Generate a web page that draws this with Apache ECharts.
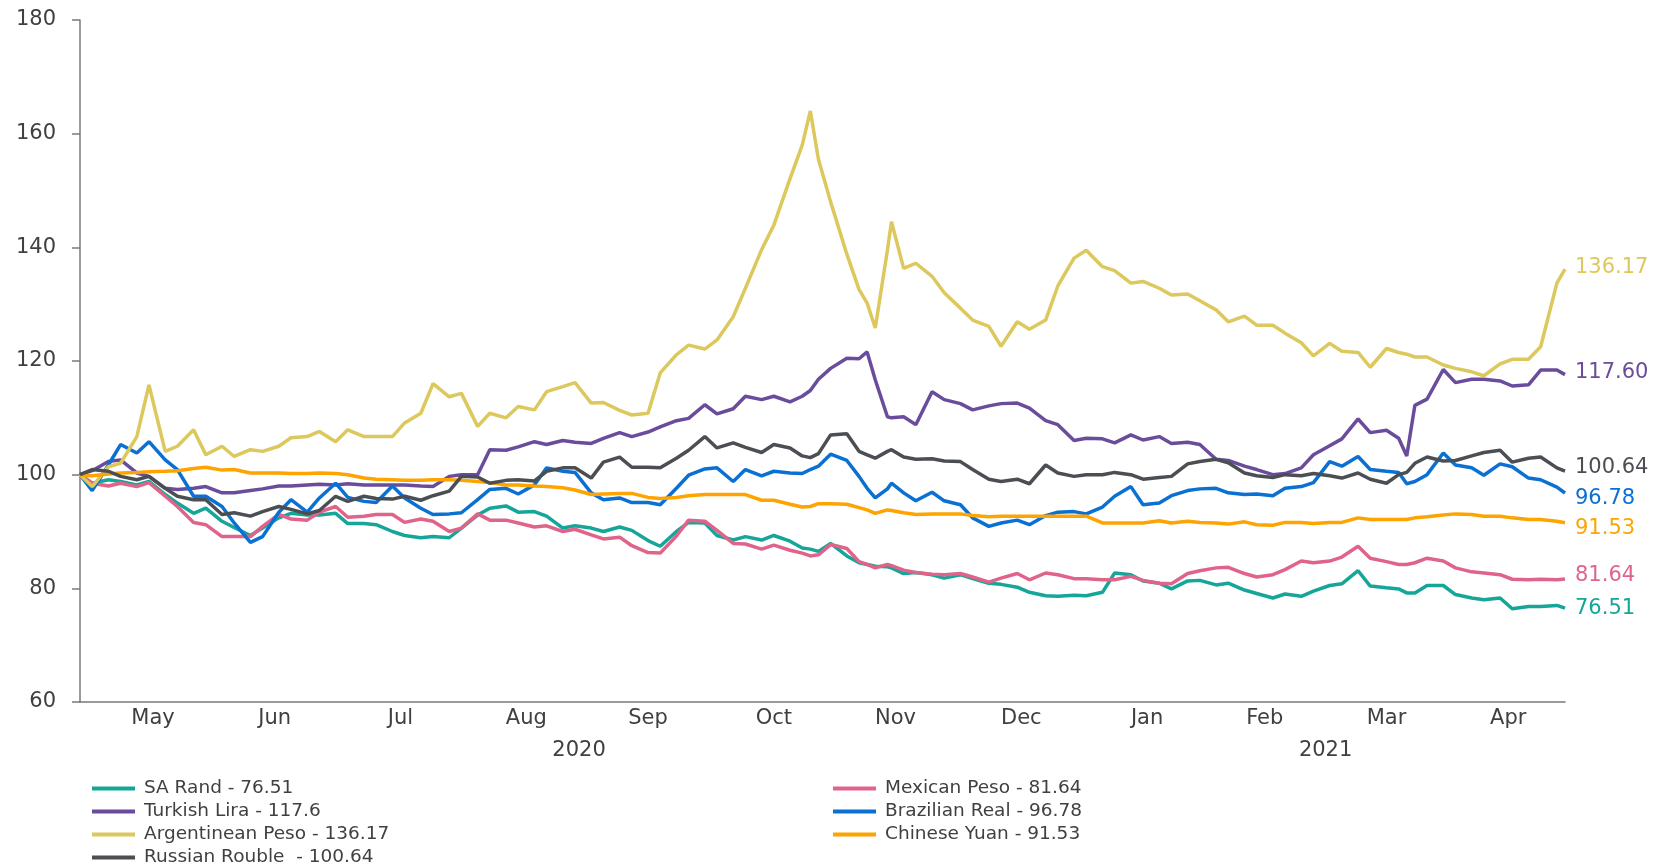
<!doctype html>
<html>
<head>
<meta charset="utf-8">
<style>
  html, body { margin: 0; padding: 0; background: #fff; }
  #chart-panel { width: 1655px; height: 867px; }
</style>
<script src="https://cdn.jsdelivr.net/npm/echarts@6/dist/echarts.min.js"></script>
</head>
<body>
<div id="chart-panel"></div>
<script type="text/javascript">
// sample dates (roughly twice a week)
var dates = [
  '2020-04-28','2020-05-01','2020-05-05','2020-05-08','2020-05-12','2020-05-15','2020-05-19','2020-05-22','2020-05-26','2020-05-29',
  '2020-06-02','2020-06-05','2020-06-09','2020-06-12','2020-06-16','2020-06-19','2020-06-23','2020-06-26','2020-06-30','2020-07-03',
  '2020-07-07','2020-07-10','2020-07-14','2020-07-17','2020-07-21','2020-07-24','2020-07-28','2020-07-31','2020-08-04','2020-08-07',
  '2020-08-11','2020-08-14','2020-08-18','2020-08-21','2020-08-25','2020-08-28','2020-09-01','2020-09-04','2020-09-08','2020-09-11',
  '2020-09-15','2020-09-18','2020-09-22','2020-09-25','2020-09-29','2020-10-02','2020-10-06','2020-10-09','2020-10-13','2020-10-16',
  '2020-10-20','2020-10-23','2020-10-25','2020-10-27','2020-10-30','2020-11-03','2020-11-06','2020-11-08','2020-11-10','2020-11-13',
  '2020-11-14','2020-11-17','2020-11-20','2020-11-24','2020-11-27','2020-12-01','2020-12-04','2020-12-08','2020-12-11','2020-12-15',
  '2020-12-18','2020-12-22','2020-12-25','2020-12-29','2021-01-01','2021-01-05','2021-01-08','2021-01-12','2021-01-15','2021-01-19',
  '2021-01-22','2021-01-26','2021-01-29','2021-02-02','2021-02-05','2021-02-09','2021-02-12','2021-02-16','2021-02-19','2021-02-23',
  '2021-02-26','2021-03-02','2021-03-05','2021-03-09','2021-03-12','2021-03-16','2021-03-19','2021-03-21','2021-03-23','2021-03-26',
  '2021-03-30','2021-04-02','2021-04-06','2021-04-09','2021-04-13','2021-04-16','2021-04-20','2021-04-23','2021-04-27','2021-04-29'
];

var saRand = [
  100, 98.5, 99.1, 98.8, 98.2, 98.8, 96.5, 95.0, 93.2, 94.1,
  91.8, 90.7, 89.3, 90.6, 92.4, 93.2, 92.9, 92.9, 93.2, 91.4,
  91.4, 91.2, 90.0, 89.3, 88.9, 89.1, 88.9, 90.6, 92.9, 94.1,
  94.5, 93.4, 93.5, 92.7, 90.6, 91.0, 90.6, 90.0, 90.8, 90.2,
  88.4, 87.4, 90.0, 91.6, 91.5, 89.3, 88.5, 89.1, 88.5, 89.3,
  88.3, 87.1, 86.9, 86.5, 87.9, 85.7, 84.5, 84.2, 83.9, 83.8,
  83.6, 82.6, 82.8, 82.4, 81.8, 82.4, 81.7, 80.9, 80.7, 80.2,
  79.3, 78.7, 78.6, 78.8, 78.7, 79.3, 82.7, 82.4, 81.3, 80.9,
  79.9, 81.3, 81.4, 80.6, 80.9, 79.7, 79.1, 78.3, 79.0, 78.6,
  79.5, 80.5, 80.8, 83.1, 80.4, 80.1, 79.9, 79.2, 79.2, 80.5,
  80.5, 78.9, 78.3, 78.0, 78.3, 76.4, 76.8, 76.8, 77.0, 76.51
];
var mexicanPeso = [
  100, 98.5, 98.0, 98.5, 97.9, 98.6, 96.2, 94.4, 91.6, 91.2,
  89.1, 89.1, 89.1, 90.9, 93.0, 92.2, 92.0, 93.4, 94.4, 92.5,
  92.7, 93.0, 93.0, 91.6, 92.2, 91.8, 90.0, 90.6, 93.1, 92.0,
  92.0, 91.5, 90.8, 91.0, 90.0, 90.4, 89.4, 88.7, 89.0, 87.5,
  86.3, 86.2, 89.2, 92.0, 91.8, 90.2, 87.9, 87.8, 86.9, 87.6,
  86.7, 86.2, 85.7, 85.9, 87.7, 87.0, 84.7, 84.2, 83.6, 84.2,
  84.0, 83.2, 82.8, 82.5, 82.4, 82.6, 82.0, 81.1, 81.8, 82.6,
  81.5, 82.7, 82.4, 81.7, 81.7, 81.5, 81.5, 82.1, 81.4, 80.9,
  80.8, 82.6, 83.1, 83.6, 83.7, 82.6, 82.0, 82.4, 83.3, 84.8,
  84.5, 84.8, 85.5, 87.4, 85.3, 84.7, 84.2, 84.2, 84.5, 85.3,
  84.8, 83.6, 82.9, 82.7, 82.4, 81.6, 81.5, 81.6, 81.5, 81.64
];
var turkishLira = [
  100, 100.7, 102.3, 102.6, 100.3, 99.7, 97.6, 97.4, 97.6, 97.9,
  96.8, 96.8, 97.2, 97.5, 98.0, 98.0, 98.2, 98.3, 98.2, 98.4,
  98.2, 98.2, 98.2, 98.2, 98.0, 97.9, 99.7, 100.0, 100.0, 104.4,
  104.3, 104.9, 105.8, 105.3, 106.0, 105.7, 105.5, 106.4, 107.4, 106.7,
  107.5, 108.4, 109.5, 109.9, 112.3, 110.7, 111.6, 113.8, 113.2, 113.8,
  112.8, 113.8, 114.8, 116.8, 118.7, 120.5, 120.4, 121.6, 116.7, 110.2,
  110.0, 110.2, 108.8, 114.6, 113.2, 112.5, 111.4, 112.1, 112.5, 112.6,
  111.7, 109.5, 108.8, 106.0, 106.4, 106.3, 105.6, 107.0, 106.1, 106.7,
  105.5, 105.7, 105.3, 102.7, 102.5, 101.5, 100.9, 100.0, 100.2, 101.2,
  103.5, 105.1, 106.3, 109.8, 107.4, 107.8, 106.4, 103.3, 112.2, 113.3,
  118.5, 116.2, 116.8, 116.8, 116.5, 115.6, 115.8, 118.4, 118.4, 117.6
];
var brazilianReal = [
  100, 97.2, 101.7, 105.3, 103.8, 105.8, 102.6, 100.9, 96.2, 96.2,
  94.4, 91.5, 88.1, 89.1, 93.4, 95.6, 93.4, 95.9, 98.5, 96.0,
  95.3, 95.1, 98.0, 95.9, 94.1, 93.0, 93.1, 93.3, 95.6, 97.4,
  97.6, 96.6, 98.2, 101.2, 100.6, 100.4, 96.8, 95.6, 95.9, 95.1,
  95.1, 94.7, 97.6, 99.9, 101.0, 101.2, 98.8, 100.9, 99.8, 100.6,
  100.3, 100.2, 100.9, 101.5, 103.6, 102.5, 99.7, 97.6, 95.9, 97.5,
  98.5, 96.8, 95.4, 96.9, 95.4, 94.7, 92.4, 90.9, 91.5, 92.0,
  91.2, 92.8, 93.4, 93.5, 93.1, 94.3, 96.2, 97.9, 94.7, 95.0,
  96.3, 97.2, 97.5, 97.6, 96.8, 96.5, 96.6, 96.3, 97.6, 97.9,
  98.6, 102.3, 101.5, 103.2, 100.9, 100.6, 100.4, 98.4, 98.8, 100.0,
  103.8, 101.7, 101.2, 99.9, 101.9, 101.4, 99.4, 99.1, 97.8, 96.78
];
var argentineanPeso = [
  100, 97.9, 101.4, 102.0, 106.7, 115.8, 104.1, 105.0, 107.9, 103.5,
  105.0, 103.2, 104.4, 104.1, 105.0, 106.5, 106.7, 107.6, 105.8, 107.9,
  106.7, 106.7, 106.7, 109.1, 110.8, 116.0, 113.7, 114.3, 108.5, 110.8,
  110.0, 112.0, 111.4, 114.6, 115.5, 116.2, 112.6, 112.7, 111.3, 110.5,
  110.8, 117.9, 121.1, 122.8, 122.1, 123.7, 127.8, 132.8, 139.6, 143.9,
  152.1, 158.0, 164.0, 155.5, 148.0, 138.8, 132.6, 130.2, 125.8, 139.5,
  144.5, 136.3, 137.2, 134.9, 132.0, 129.3, 127.2, 126.1, 122.6, 126.9,
  125.6, 127.2, 133.2, 138.1, 139.5, 136.6, 135.9, 133.7, 134.0, 132.8,
  131.6, 131.8, 130.6, 129.0, 126.9, 127.9, 126.3, 126.3, 124.9, 123.2,
  120.9, 123.1, 121.7, 121.5, 118.9, 122.2, 121.5, 121.2, 120.7, 120.7,
  119.3, 118.7, 118.1, 117.4, 119.5, 120.3, 120.3, 122.5, 133.7, 136.17
];
var chineseYuan = [
  100, 99.8, 100.1, 100.3, 100.4, 100.5, 100.6, 100.7, 101.1, 101.3,
  100.8, 100.9, 100.3, 100.3, 100.3, 100.2, 100.2, 100.3, 100.2, 100.0,
  99.4, 99.2, 99.1, 99.0, 99.0, 99.1, 99.1, 99.0, 98.8, 98.6,
  98.2, 98.2, 98.0, 97.9, 97.7, 97.3, 96.5, 96.6, 96.7, 96.7,
  96.0, 95.8, 96.0, 96.3, 96.5, 96.5, 96.5, 96.5, 95.5, 95.5,
  94.8, 94.3, 94.4, 94.9, 94.9, 94.8, 94.2, 93.8, 93.2, 93.8,
  93.7, 93.3, 93.0, 93.1, 93.1, 93.1, 92.8, 92.6, 92.7, 92.7,
  92.7, 92.7, 92.7, 92.7, 92.7, 91.5, 91.5, 91.5, 91.5, 91.9,
  91.5, 91.8, 91.6, 91.5, 91.3, 91.7, 91.2, 91.1, 91.6, 91.6,
  91.4, 91.6, 91.6, 92.4, 92.1, 92.1, 92.1, 92.1, 92.4, 92.6,
  92.9, 93.1, 93.0, 92.7, 92.7, 92.4, 92.1, 92.1, 91.8, 91.53
];
var russianRouble = [
  100, 100.9, 100.6, 99.7, 99.1, 99.7, 97.6, 96.2, 95.6, 95.6,
  93.0, 93.3, 92.7, 93.5, 94.4, 93.9, 93.1, 93.7, 96.2, 95.3,
  96.2, 95.8, 95.7, 96.2, 95.5, 96.3, 97.1, 99.7, 99.6, 98.5,
  99.0, 99.1, 98.9, 100.6, 101.2, 101.2, 99.4, 102.2, 103.1, 101.3,
  101.3, 101.2, 102.9, 104.3, 106.7, 104.7, 105.6, 104.8, 103.9, 105.3,
  104.7, 103.3, 103.0, 103.7, 107.0, 107.2, 104.1, 103.5, 102.9, 104.1,
  104.4, 103.1, 102.7, 102.8, 102.4, 102.3, 100.9, 99.2, 98.8, 99.2,
  98.4, 101.7, 100.3, 99.7, 100.0, 100.0, 100.4, 100.0, 99.2, 99.5,
  99.7, 101.9, 102.3, 102.7, 102.1, 100.3, 99.8, 99.5, 100.0, 99.8,
  100.2, 99.8, 99.4, 100.3, 99.2, 98.5, 100.0, 100.4, 102.0, 103.1,
  102.4, 102.5, 103.3, 103.9, 104.3, 102.2, 102.9, 103.1, 101.2, 100.64
];

// axis labels: month names sit in the middle of each month, years in the middle of their span
var monthLabelDates = ['2020-05-16','2020-06-15','2020-07-16','2020-08-16','2020-09-15','2020-10-16',
                       '2020-11-15','2020-12-16','2021-01-16','2021-02-14','2021-03-16','2021-04-15'];
var monthNames = ['Jan','Feb','Mar','Apr','May','Jun','Jul','Aug','Sep','Oct','Nov','Dec'];
var yearLabelDates = ['2020-08-29','2021-03-01'];

var legendLeft = ['SA Rand - 76.51', 'Turkish Lira - 117.6', 'Argentinean Peso - 136.17', 'Russian Rouble  - 100.64'];
var legendRight = ['Mexican Peso - 81.64', 'Brazilian Real - 96.78', 'Chinese Yuan - 91.53'];

var FONT = 'DejaVu Sans';
var TXT = '#404040';

// x is a plain value axis in milliseconds (UTC), so labels can be placed freely
function ms(d) { return Date.parse(d); }
var xMin = ms(dates[0]);
var xMax = ms(dates[dates.length - 1]);

function pairs(vals) {
    return dates.map(function (d, i) { return [ms(d), vals[i]]; });
}

function line(name, vals, color, dy) {
    return {
        name: name,
        type: 'line',
        data: pairs(vals),
        showSymbol: false,
        symbol: 'none',
        lineStyle: { width: 3.5, color: color },
        itemStyle: { color: color },
        emphasis: { disabled: true },
        endLabel: {
            show: true,
            distance: 10,
            offset: [0, dy],
            color: color,
            fontFamily: FONT,
            fontSize: 21,
            formatter: function (p) { return p.value[1].toFixed(2); }
        }
    };
}

function legendBlock(names, left) {
    return {
        data: names,
        orient: 'vertical',
        left: left, top: 779, height: 100,
        padding: 0,
        icon: 'rect', itemWidth: 43, itemHeight: 4, itemGap: 4,
        selectedMode: false,
        textStyle: { fontFamily: FONT, fontSize: 18.5, color: TXT, lineHeight: 19, padding: [0, 0, 0, 4] }
    };
}

var myChart = echarts.init(document.getElementById('chart-panel'));

var option = {
    animation: false,
    backgroundColor: '#fff',
    textStyle: { fontFamily: FONT },
    grid: { left: 80, right: 90, top: 20, bottom: 165 },
    legend: [legendBlock(legendLeft, 92), legendBlock(legendRight, 833)],
    xAxis: [{
        type: 'value',
        min: xMin,
        max: xMax,
        axisLine: { lineStyle: { color: '#7a7a7a', width: 1.5 } },
        axisTick: { show: false },
        splitLine: { show: false },
        axisLabel: {
            customValues: monthLabelDates.map(ms),
            margin: 6,
            color: TXT,
            fontFamily: FONT,
            fontSize: 21,
            formatter: function (v) { return monthNames[new Date(v).getUTCMonth()]; }
        }
    }, {
        type: 'value',
        min: xMin,
        max: xMax,
        position: 'bottom',
        offset: 33,
        axisLine: { show: false },
        axisTick: { show: false },
        splitLine: { show: false },
        axisLabel: {
            customValues: yearLabelDates.map(ms),
            margin: 5,
            color: TXT,
            fontFamily: FONT,
            fontSize: 21,
            formatter: function (v) { return String(new Date(v).getUTCFullYear()); }
        }
    }],
    yAxis: {
        type: 'value',
        min: 60, max: 180, interval: 20,
        axisLine: { show: true, lineStyle: { color: '#7a7a7a', width: 1.5 } },
        axisTick: { show: true, length: 8, lineStyle: { color: '#7a7a7a', width: 1.5 } },
        splitLine: { show: false },
        axisLabel: { margin: 24, color: TXT, fontFamily: FONT, fontSize: 21 }
    },
    series: [
        line('SA Rand - 76.51', saRand, '#15a699', 0),
        line('Mexican Peso - 81.64', mexicanPeso, '#e0648a', -3),
        line('Turkish Lira - 117.6', turkishLira, '#6a4c9c', -2),
        line('Brazilian Real - 96.78', brazilianReal, '#0a70d2', 6),
        line('Argentinean Peso - 136.17', argentineanPeso, '#dcc85c', -2),
        line('Chinese Yuan - 91.53', chineseYuan, '#fda400', 6),
        line('Russian Rouble  - 100.64', russianRouble, '#4b4e53', -3)
    ]
};

myChart.setOption(option);
</script>
</body>
</html>
